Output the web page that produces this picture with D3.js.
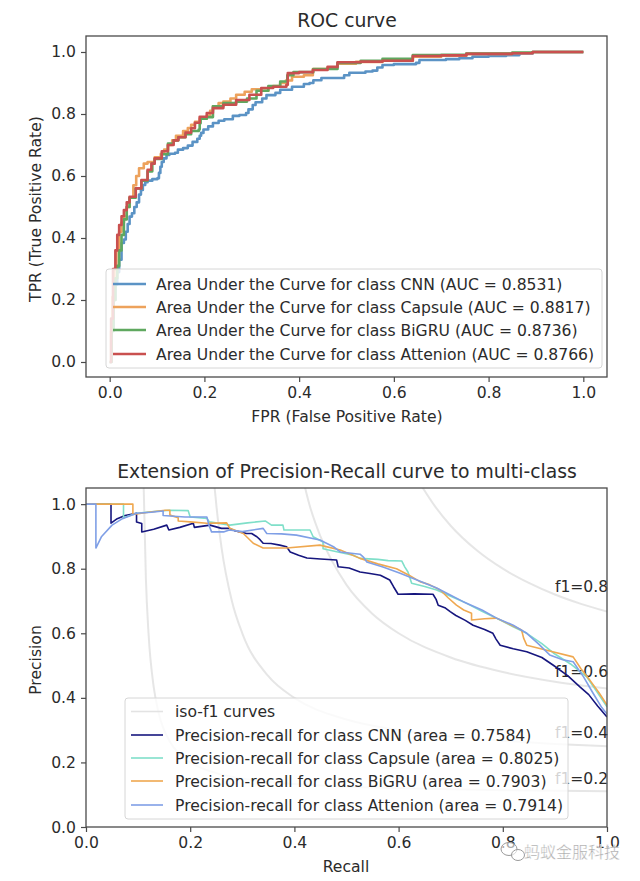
<!DOCTYPE html>
<html><head><meta charset="utf-8">
<script src="https://cdnjs.cloudflare.com/ajax/libs/d3/7.8.5/d3.min.js"></script>
<style>html,body{margin:0;padding:0;background:#fff}svg{display:block}text{font-family:"DejaVu Sans",sans-serif;fill:#2b2b2b}</style>
</head><body><svg id="c" width="640" height="881"></svg>
<script>
// ROC data: [fpr, tpr]
const rocCnn=[[0,0],[.004,.1],[.008,.2],[.012,.25],[.016,.29],[.02,.33],[.025,.384],[.03,.395],[.034,.42],[.038,.445],[.042,.469],[.047,.48],[.052,.5],[.057,.515],[.062,.54],[.066,.555],[.07,.571],[.075,.58],[.08,.585],[.09,.59],[.101,.593],[.104,.61],[.107,.63],[.11,.645],[.114,.657],[.12,.668],[.126,.672],[.138,.675],[.144,.685],[.155,.69],[.165,.698],[.175,.71],[.185,.72],[.19,.73],[.193,.739],[.198,.75],[.208,.76],[.218,.771],[.23,.778],[.242,.783],[.26,.794],[.274,.797],[.288,.803],[.293,.815],[.302,.829],[.308,.838],[.322,.85],[.331,.861],[.35,.868],[.36,.878],[.385,.888],[.41,.897],[.422,.9],[.43,.909],[.447,.916],[.485,.916],[.495,.925],[.506,.933],[.54,.937],[.555,.94],[.565,.95],[.576,.958],[.6,.961],[.647,.965],[.654,.974],[.71,.977],[.738,.98],[.766,.985],[.8,.987],[.837,.99],[.865,.995],[.893,1],[1,1]];
const rocCapsule=[[0,0],[.003,.1],[.006,.21],[.01,.3],[.014,.36],[.02,.42],[.025,.45],[.03,.47],[.036,.5],[.042,.53],[.05,.57],[.056,.6],[.062,.625],[.072,.64],[.08,.645],[.095,.66],[.108,.672],[.115,.685],[.123,.7],[.132,.715],[.14,.73],[.155,.745],[.165,.755],[.172,.765],[.18,.775],[.19,.785],[.205,.795],[.212,.81],[.218,.825],[.23,.835],[.24,.84],[.255,.85],[.267,.862],[.285,.872],[.3,.88],[.32,.875],[.335,.885],[.345,.89],[.36,.9],[.372,.908],[.385,.92],[.41,.925],[.429,.945],[.46,.95],[.481,.962],[.52,.968],[.576,.972],[.64,.985],[.7,.988],[.753,.994],[.85,.997],[.893,1],[1,1]];
const rocBigru=[[0,0],[.004,.1],[.008,.2],[.012,.27],[.016,.31],[.02,.36],[.025,.41],[.03,.46],[.036,.5],[.042,.53],[.055,.56],[.067,.585],[.08,.615],[.09,.64],[.095,.655],[.11,.67],[.123,.705],[.135,.715],[.145,.725],[.16,.735],[.172,.745],[.188,.75],[.19,.77],[.192,.785],[.205,.79],[.218,.825],[.24,.835],[.267,.84],[.29,.85],[.31,.875],[.335,.89],[.36,.905],[.375,.925],[.388,.935],[.4,.935],[.43,.945],[.481,.965],[.53,.972],[.576,.978],[.64,.99],[.7,.991],[.753,.995],[.85,.998],[.893,1],[1,1]];
const rocAttenion=[[0,0],[.003,.14],[.007,.3],[.012,.36],[.016,.41],[.02,.442],[.025,.47],[.03,.49],[.036,.515],[.042,.533],[.055,.56],[.067,.587],[.08,.62],[.088,.64],[.095,.657],[.11,.68],[.123,.70],[.135,.715],[.145,.725],[.16,.74],[.172,.754],[.18,.772],[.19,.791],[.205,.803],[.218,.819],[.24,.83],[.267,.845],[.295,.862],[.32,.884],[.345,.888],[.373,.894],[.376,.932],[.4,.935],[.429,.942],[.46,.952],[.481,.967],[.53,.969],[.576,.972],[.64,.987],[.7,.989],[.753,.994],[.85,.996],[.893,1],[1,1]];
const rocLabels=["Area Under the Curve for class CNN (AUC = 0.8531)","Area Under the Curve for class Capsule (AUC = 0.8817)","Area Under the Curve for class BiGRU (AUC = 0.8736)","Area Under the Curve for class Attenion (AUC = 0.8766)"];
const rocColors=["#5b93c5","#eda25c","#5fa85f","#c9504f"];
// PR data: [recall, precision]
const prCnn=[[0,1],[.048,1],[.048,.941],[.06,.955],[.075,.965],[.097,.972],[.097,.945],[.107,.94],[.107,.914],[.13,.922],[.155,.935],[.159,.92],[.18,.928],[.206,.941],[.208,.928],[.238,.935],[.26,.925],[.275,.925],[.285,.918],[.308,.909],[.318,.909],[.328,.899],[.334,.89],[.34,.879],[.355,.878],[.372,.873],[.385,.868],[.392,.852],[.408,.842],[.424,.833],[.45,.83],[.481,.827],[.484,.806],[.505,.802],[.526,.79],[.545,.785],[.565,.78],[.583,.765],[.59,.745],[.599,.721],[.63,.722],[.666,.721],[.672,.705],[.676,.687],[.69,.678],[.699,.667],[.71,.655],[.728,.64],[.743,.625],[.765,.612],[.781,.6],[.787,.582],[.795,.563],[.82,.552],[.846,.543],[.875,.525],[.897,.501],[.925,.468],[.948,.434],[.965,.41],[.982,.375],[1,.341]];
const prCapsule=[[0,1],[.072,1],[.072,.958],[.097,.972],[.13,.977],[.161,.981],[.196,.98],[.2,.96],[.232,.956],[.237,.945],[.276,.935],[.31,.942],[.344,.948],[.356,.935],[.378,.935],[.38,.92],[.43,.92],[.436,.899],[.455,.883],[.455,.862],[.488,.85],[.513,.842],[.526,.832],[.56,.829],[.58,.825],[.606,.824],[.612,.805],[.618,.79],[.625,.755],[.65,.745],[.673,.734],[.7,.715],[.724,.698],[.76,.668],[.795,.641],[.82,.62],[.846,.6],[.875,.568],[.897,.539],[.93,.505],[.961,.465],[.98,.42],[1,.372]];
const prBigru=[[0,1],[.09,1],[.09,.968],[.12,.975],[.152,.981],[.161,.981],[.161,.966],[.177,.958],[.177,.948],[.2,.945],[.232,.941],[.27,.942],[.276,.925],[.302,.909],[.321,.879],[.34,.864],[.385,.864],[.449,.873],[.488,.858],[.526,.832],[.56,.815],[.596,.8],[.62,.78],[.641,.76],[.66,.75],[.68,.734],[.695,.71],[.711,.687],[.725,.672],[.74,.662],[.74,.641],[.765,.645],[.788,.647],[.81,.63],[.836,.61],[.84,.585],[.846,.563],[.89,.545],[.935,.527],[.95,.49],[.967,.455],[.985,.415],[1,.378]];
const prAttenion=[[0,1],[.019,1],[.019,.864],[.03,.9],[.05,.935],[.07,.955],[.097,.972],[.125,.975],[.148,.979],[.148,.965],[.19,.96],[.232,.96],[.236,.935],[.241,.914],[.264,.914],[.275,.92],[.3,.915],[.34,.925],[.347,.909],[.375,.908],[.404,.904],[.449,.889],[.475,.868],[.488,.852],[.526,.845],[.533,.835],[.539,.821],[.57,.805],[.603,.786],[.64,.762],[.673,.74],[.7,.718],[.724,.698],[.76,.672],[.788,.647],[.82,.625],[.846,.6],[.87,.565],[.89,.533],[.915,.518],[.935,.512],[.955,.465],[.973,.415],[.99,.37],[1,.35]];
const prLabels=["iso-f1 curves","Precision-recall for class CNN (area = 0.7584)","Precision-recall for class Capsule (area = 0.8025)","Precision-recall for class BiGRU (area = 0.7903)","Precision-recall for class Attenion (area = 0.7914)"];
const prColors=["#16167e","#7fdfc9","#efa850","#7f9fe6"];
// iso-f1 reference curves: [recall, precision]
const iso2=[[.11,1.1],[.115,.767],[.12,.6],[.13,.433],[.14,.35],[.16,.267],[.18,.225],[.2,.2],[.25,.167],[.3,.15],[.4,.133],[.5,.125],[.6,.12],[.8,.114],[1,.111]];
const iso4=[[.22,2.2],[.24,1.2],[.25,1],[.26,.867],[.28,.7],[.3,.6],[.35,.467],[.4,.4],[.5,.333],[.6,.3],[.7,.28],[.8,.267],[.9,.257],[1,.25]];
const iso6=[[.4,1.2],[.43,.992],[.45,.9],[.5,.75],[.55,.66],[.6,.6],[.7,.525],[.8,.48],[.9,.45],[1,.429]];
const iso8=[[.64,1.067],[.67,.993],[.7,.933],[.75,.857],[.8,.8],[.85,.756],[.9,.72],[.95,.691],[1,.667]];
const isoNames=["f1=0.2","f1=0.4","f1=0.6","f1=0.8"];
const isoLabelY=[.132,.276,.465,.728];
const ticks01=[0,.2,.4,.6,.8,1];

const svg=d3.select("#c");
const defs=svg.append("defs");
const F=15.6, FRAME="#4a4a4a";
function axes(box,xDom,yDom,title,xl,yl,xr,yr,id){
  const x=d3.scaleLinear().domain(xDom).range([box.l,box.r]);
  const y=d3.scaleLinear().domain(yDom).range([box.b,box.t]);
  defs.append("clipPath").attr("id",id).append("rect").attr("x",box.l).attr("y",box.t).attr("width",box.r-box.l).attr("height",box.b-box.t);
  const gx=svg.append("g").attr("transform",`translate(0,${box.b})`).call(d3.axisBottom(x).tickValues(ticks01).tickFormat(d3.format(".1f")).tickSize(5).tickPadding(5));
  const gy=svg.append("g").attr("transform",`translate(${box.l},0)`).call(d3.axisLeft(y).tickValues(ticks01).tickFormat(d3.format(".1f")).tickSize(5).tickPadding(5));
  [gx,gy].forEach(g=>{g.select(".domain").remove();g.selectAll("line").attr("stroke",FRAME).attr("stroke-width",1.2);g.selectAll("text").style("font-size",F+"px").style("font-family",'"DejaVu Sans"').attr("fill","#2b2b2b");});
  svg.append("text").attr("x",xl[0]).attr("y",xl[1]).attr("text-anchor","middle").style("font-size",F+"px").text(xr);
  svg.append("text").attr("transform",`translate(${yl[0]},${yl[1]}) rotate(-90)`).attr("text-anchor","middle").style("font-size",F+"px").text(yr);
  svg.append("text").attr("x",title[0]).attr("y",title[1]).attr("text-anchor","middle").style("font-size","18.8px").text(title[2]);
  return {x,y};
}
function frame(box){svg.append("rect").attr("x",box.l).attr("y",box.t).attr("width",box.r-box.l).attr("height",box.b-box.t).attr("fill","none").attr("stroke",FRAME).attr("stroke-width",1.3);}
function plot(sc,id,pts,color,w,curve,op){
  const l=d3.line().x(d=>sc.x(d[0])).y(d=>sc.y(d[1])).curve(curve);
  svg.append("path").attr("clip-path",`url(#${id})`).attr("d",l(pts)).attr("fill","none").attr("stroke",color).attr("stroke-width",w).attr("stroke-opacity",op||1).attr("stroke-linejoin","round");
}
function legend(b,rows,colors,tx,l0,l1,w){
  svg.append("rect").attr("x",b.l).attr("y",b.t).attr("width",b.r-b.l).attr("height",b.b-b.t).attr("rx",3).attr("fill","#fff").attr("fill-opacity",.8).attr("stroke","#d6d6d6").attr("stroke-width",1);
  rows.forEach((r,i)=>{
    svg.append("line").attr("x1",l0).attr("x2",l1).attr("y1",r.y).attr("y2",r.y).attr("stroke",colors[i]).attr("stroke-width",w);
    svg.append("text").attr("x",tx).attr("y",r.y+5.5).style("font-size",F+"px").text(r.t);
  });
}
// ROC panel
const b1={l:86,r:607,t:36,b:377};
const s1=axes(b1,[-.05,1.05],[-.0484,1.0516],[347,27,"ROC curve"],[347,422],[41,209],"FPR (False Positive Rate)","TPR (True Positive Rate)","r1");
[rocCnn,rocCapsule,rocBigru,rocAttenion].forEach((d,i)=>plot(s1,"r1",d,rocColors[i],2.6,d3.curveStepAfter));
frame(b1);
legend({l:106,r:602,t:269,b:368},rocLabels.map((t,i)=>({t,y:[284,307,330,354][i]})),rocColors,156,113,146,2.4);
// PR panel
const b2={l:86,r:607,t:488,b:827};
const s2=axes(b2,[0,1],[0,1.05],[347,478,"Extension of Precision-Recall curve to multi-class"],[346,872],[41,660],"Recall","Precision","r2");
[iso2,iso4,iso6,iso8].forEach(d=>plot(s2,"r2",d,"#808080",2,d3.curveMonotoneX,.2));
isoNames.forEach((t,i)=>svg.append("text").attr("x",s2.x(.9)).attr("y",s2.y(isoLabelY[i])).style("font-size",F+"px").text(t));
[prCnn,prCapsule,prBigru,prAttenion].forEach((d,i)=>plot(s2,"r2",d,prColors[i],1.6,d3.curveLinear));
frame(b2);
legend({l:125,r:568,t:698,b:819},prLabels.map((t,i)=>({t,y:[711.5,735,758,781,805][i]})),["#e3e3e3"].concat(prColors),175,131,163,1.6);
// watermark
const wm=svg.append("g");
wm.append("ellipse").attr("cx",509).attr("cy",849).attr("rx",8).attr("ry",6.5).attr("fill","#fff").attr("fill-opacity",.6).attr("stroke","#9a9a9a").attr("stroke-width",1);
wm.append("ellipse").attr("cx",518).attr("cy",855).attr("rx",6.5).attr("ry",5.5).attr("fill","#fff").attr("fill-opacity",.6).attr("stroke","#9a9a9a").attr("stroke-width",1);
wm.append("text").attr("x",524).attr("y",858).style("font-family",'"Noto Sans CJK SC"').style("font-size","16px").style("fill","#a6a6a6").attr("stroke","#fff").attr("stroke-width",.4).text("蚂蚁金服科技");
</script></body></html>
